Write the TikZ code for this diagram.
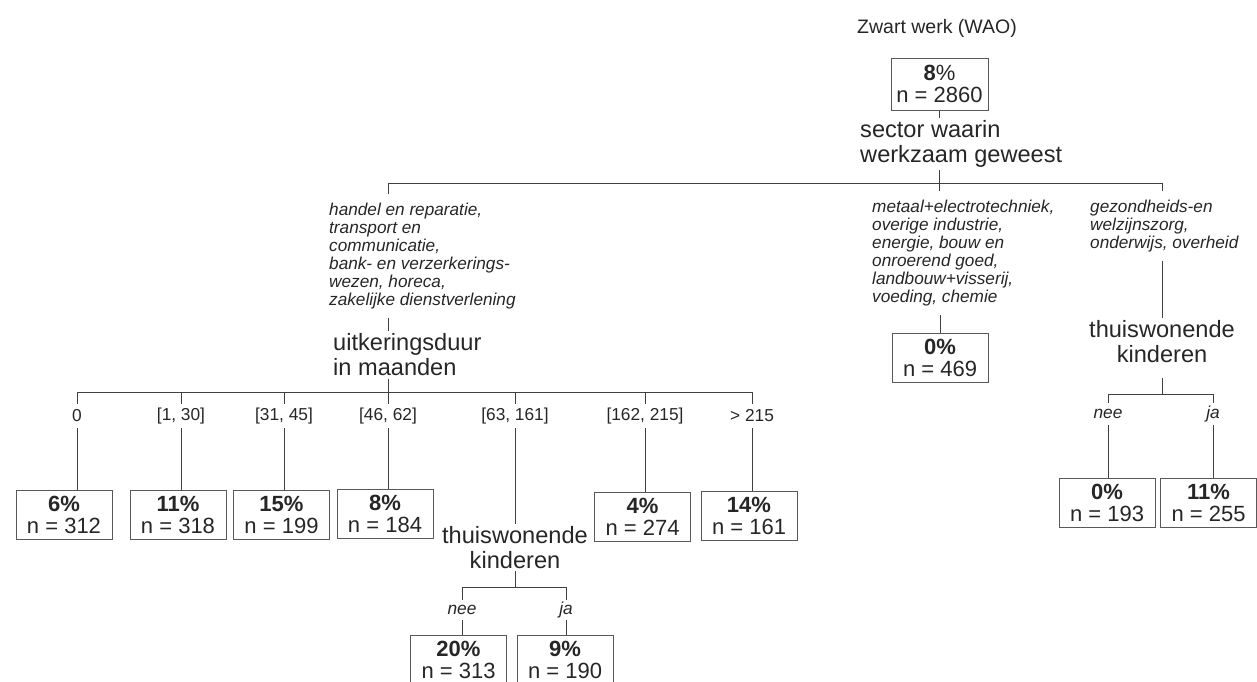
\documentclass[tikz,border=0pt]{standalone}
\usepackage{fontspec}
\setmainfont{Liberation Sans}
\usepackage{tikz}

\tikzset{
    titel/.style = {inner sep = 0pt, font = \fontsize{19.5}{22}\selectfont},
    kasten/.style = {draw = black!65, line width = 1pt, minimum width = 96pt, minimum height = 49pt, inner sep = 0pt, align = center, font = \fontsize{22}{22}\selectfont},
    split/.style = {inner sep = 2.5pt, align = left, font = \fontsize{23.6}{25}\selectfont},
    zweig/.style = {inner xsep = 0pt, inner ysep = 9pt, align = left, font = \itshape\fontsize{17.2}{18}\selectfont},
    bereich/.style = {inner sep = 0pt, minimum height = 24pt, font = \fontsize{17.3}{17}\selectfont},
    keuze/.style = {inner sep = 0pt, minimum height = 20pt, font = \itshape\fontsize{17.3}{17}\selectfont},
    kante/.style = {draw = black!75, line width = 1pt}
}

\begin{document}
\begin{tikzpicture}[x = 1pt, y = -1pt, text = black!85]
        % Rahmen
            \useasboundingbox (0, 0) rectangle (1257, 681);
            \clip (0, 0) rectangle (1257, 681);

        % Titel und Wurzel
            \node[titel] (titel) at (937, 28) {Zwart werk (WAO)};
            \node[kasten, minimum width = 97pt, minimum height = 52pt] (root) at (939.5, 84) {\textbf{8}\%\\n = 2860};
            \node[split, anchor = north west] (sector) at (857.5, 118) {sector waarin\\werkzaam geweest};

        % Zweige der ersten Ebene
            \node[zweig, anchor = north west] (handel) at (329, 194) {handel en reparatie,\\transport en\\communicatie,\\bank- en verzerkerings-\\wezen, horeca,\\zakelijke dienstverlening};
            \node[zweig, anchor = north west] (metaal) at (872, 191) {metaal+electrotechniek,\\overige industrie,\\energie, bouw en\\onroerend goed,\\landbouw+visserij,\\voeding, chemie};
            \node[zweig, anchor = north west] (zorg) at (1090, 191) {gezondheids-en\\welzijnszorg,\\onderwijs, overheid};

        % Knoten der zweiten Ebene
            \node[split, anchor = north west] (duur) at (330.5, 331) {uitkeringsduur\\in maanden};
            \node[kasten] (k469) at (940, 358) {\textbf{0\%}\\n = 469};
            \node[split, align = center, anchor = north] (thuisR) at (1162, 318) {thuiswonende\\kinderen};

        % Bereiche uitkeringsduur
            \node[bereich] (r0) at (77, 416) {0};
            \node[bereich] (r1) at (181, 416) {[1, 30]};
            \node[bereich] (r2) at (284, 416) {[31, 45]};
            \node[bereich] (r3) at (388, 416) {[46, 62]};
            \node[bereich] (r4) at (515, 416) {[63, 161]};
            \node[bereich] (r5) at (645, 416) {[162, 215]};
            \node[bereich] (r6) at (752, 416) {> 215};

        % Endknoten uitkeringsduur
            \node[kasten] (k312) at (64, 515) {\textbf{6\%}\\n = 312};
            \node[kasten] (k318) at (178, 515) {\textbf{11\%}\\n = 318};
            \node[kasten] (k199) at (281.5, 515) {\textbf{15\%}\\n = 199};
            \node[kasten] (k184) at (385, 514) {\textbf{8\%}\\n = 184};
            \node[kasten] (k274) at (642.5, 517) {\textbf{4\%}\\n = 274};
            \node[kasten] (k161) at (749, 516) {\textbf{14\%}\\n = 161};
            \node[split, align = center, anchor = north] (thuisM) at (515, 523.5) {thuiswonende\\kinderen};

        % thuiswonende kinderen
            \node[keuze] (neeM) at (462, 610) {nee};
            \node[keuze] (jaM) at (566, 610) {ja};
            \node[kasten] (k313) at (458.5, 659.5) {\textbf{20\%}\\n = 313};
            \node[kasten] (k190) at (565, 659.5) {\textbf{9\%}\\n = 190};
            \node[keuze, minimum height = 22pt] (neeR) at (1108, 414) {nee};
            \node[keuze, minimum height = 22pt] (jaR) at (1213, 414) {ja};
            \node[kasten] (k193) at (1107, 503) {\textbf{0\%}\\n = 193};
            \node[kasten] (k255) at (1208.5, 503) {\textbf{11\%}\\n = 255};

        % Linien erste Ebene
            \coordinate (a1) at (388, 183);
            \coordinate (j1) at (939.5, 183);
            \coordinate (a3) at (1162, 183);
            \draw[kante] (root.south) -- (root.south |- sector.north);
            \draw[kante] (root.south |- sector.south) -- (j1);
            \draw[kante] (a1) -- (a3);
            \draw[kante] (a1) -- (a1 |- handel.north);
            \draw[kante] (j1) -- (j1 |- metaal.north);
            \draw[kante] (a3) -- (a3 |- zorg.north);
            \draw[kante] (a1 |- handel.south) -- (a1 |- duur.north);
            \draw[kante] (k469.north |- metaal.south) -- (k469.north);
            \draw[kante] (a3 |- zorg.south) -- (thuisR.north);

        % Linien uitkeringsduur
            \coordinate (j2) at (388, 392);
            \draw[kante] (j2 |- duur.south) -- (j2);
            \draw[kante] (r0 |- j2) -- (r6 |- j2);
            \draw[kante] (r0 |- j2) -- (r0.north);
            \draw[kante] (r1 |- j2) -- (r1.north);
            \draw[kante] (r2 |- j2) -- (r2.north);
            \draw[kante] (r3 |- j2) -- (r3.north);
            \draw[kante] (r4 |- j2) -- (r4.north);
            \draw[kante] (r5 |- j2) -- (r5.north);
            \draw[kante] (r6 |- j2) -- (r6.north);
            \draw[kante] (r0.south) -- (r0.south |- k312.north);
            \draw[kante] (r1.south) -- (r1.south |- k318.north);
            \draw[kante] (r2.south) -- (r2.south |- k199.north);
            \draw[kante] (r3.south) -- (r3.south |- k184.north);
            \draw[kante] (r4.south) -- (thuisM.north);
            \draw[kante] (r5.south) -- (r5.south |- k274.north);
            \draw[kante] (r6.south) -- (r6.south |- k161.north);

        % Linien thuiswonende kinderen (Mitte)
            \coordinate (j3) at (515, 587);
            \draw[kante] (thuisM.south) -- (j3);
            \draw[kante] (neeM |- j3) -- (jaM |- j3);
            \draw[kante] (neeM |- j3) -- (neeM.north);
            \draw[kante] (jaM |- j3) -- (jaM.north);
            \draw[kante] (neeM.south) -- (neeM.south |- k313.north);
            \draw[kante] (jaM.south) -- (jaM.south |- k190.north);

        % Linien thuiswonende kinderen (rechts)
            \coordinate (thuisRu) at (1162, 378);
            \coordinate (j4) at (1162, 394);
            \draw[kante] (thuisRu) -- (j4);
            \draw[kante] (neeR |- j4) -- (jaR |- j4);
            \draw[kante] (neeR |- j4) -- (neeR.north);
            \draw[kante] (jaR |- j4) -- (jaR.north);
            \draw[kante] (neeR.south) -- (neeR.south |- k193.north);
            \draw[kante] (jaR.south) -- (jaR.south |- k255.north);
    \end{tikzpicture}
\end{document}
